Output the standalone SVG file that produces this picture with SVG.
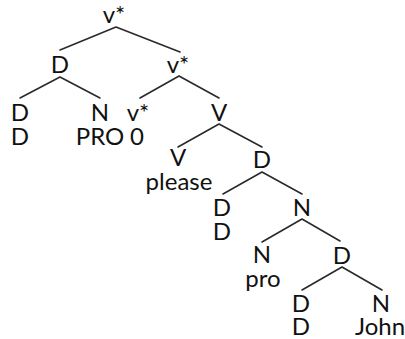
<svg xmlns="http://www.w3.org/2000/svg" width="405" height="339" viewBox="0 0 405 339">
<style>
text{font-family:Lato,"Noto Sans",sans-serif;font-size:24px;fill:#111;text-anchor:middle}
.e{stroke:#2a2a2a;stroke-width:1.6;fill:none;stroke-linecap:round}
</style>
<rect width="405" height="339" fill="#fff"/>
<g id="connectors">
<path class="e" d="M116 27L60 50M116 27L180 52"/>
<path class="e" d="M60 77L20 98M60 77L100 98"/>
<path class="e" d="M179 76L140 98M179 76L219 98"/>
<path class="e" d="M219 124L178 147M219 124L262 147"/>
<path class="e" d="M262 172L223 194M262 172L302 194"/>
<path class="e" d="M302 219L262 242M302 219L340 241"/>
<path class="e" d="M342 267L302 290M342 267L382 290"/>
</g>
<g id="n1"><text x="114" y="23">v*</text></g>
<g id="n2"><text x="60" y="73">D</text></g>
<g id="n3"><text x="178" y="73">v*</text></g>
<g id="n4"><text x="20" y="121">D</text><text x="20" y="145">D</text></g>
<g id="n5"><text x="100" y="121">N</text><text x="100" y="145">PRO</text></g>
<g id="n6"><text x="138" y="121">v*</text><text x="137" y="145">0</text></g>
<g id="n7"><text x="219" y="121">V</text></g>
<g id="n8"><text x="178" y="166">V</text><text x="179" y="190">please</text></g>
<g id="n9"><text x="262" y="168">D</text></g>
<g id="n10"><text x="222" y="216">D</text><text x="222" y="240">D</text></g>
<g id="n11"><text x="302" y="216">N</text></g>
<g id="n12"><text x="262" y="263">N</text><text x="263" y="287">pro</text></g>
<g id="n13"><text x="342" y="264">D</text></g>
<g id="n14"><text x="301" y="312">D</text><text x="301" y="335">D</text></g>
<g id="n15"><text x="381" y="312">N</text><text x="380" y="335">John</text></g>
</svg>
